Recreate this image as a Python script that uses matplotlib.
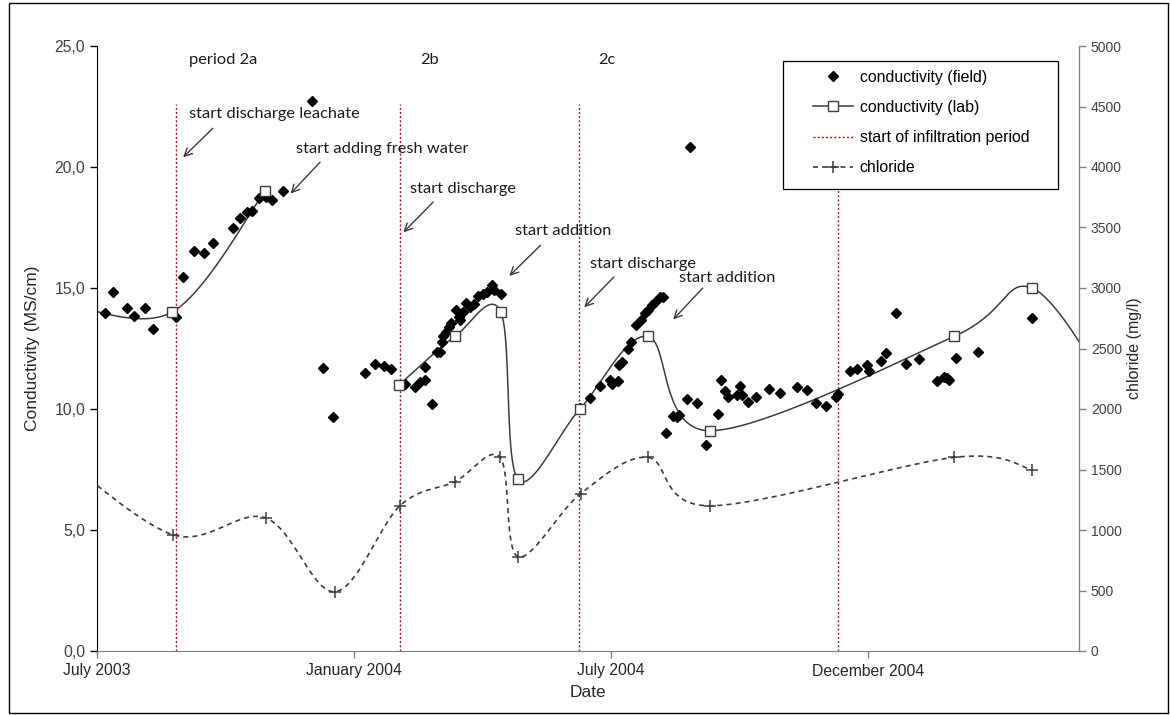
import matplotlib
matplotlib.use('Agg')
import matplotlib.pyplot as plt
import numpy as np
from matplotlib.lines import Line2D
from matplotlib.patches import Rectangle

# days counted from 1 July 2003
field_day = [6, 11, 21, 26, 34, 40, 56, 61, 69, 76, 82, 96, 101, 106, 110, 115, 120, 124, 132,
             152, 160, 167, 190, 197, 203, 208, 218, 225, 229, 232, 232, 237, 241, 243, 244, 245,
             247, 249, 251, 254, 256, 257, 259, 261, 264, 267, 270, 273, 276, 280, 281, 286,
             342, 349, 356, 363, 365, 369, 370, 372, 376, 378, 382, 385, 388, 390, 393, 395, 399, 401,
             403, 408, 411, 412, 418, 420, 425, 431, 440, 442, 445, 447, 453, 455, 457, 461, 467,
             476, 484, 496, 503, 509, 516, 523, 525, 533, 538, 545, 547, 555, 559, 566, 573, 582,
             595, 600, 602, 603, 608, 624, 662]
field_cond = [13.95, 14.85, 14.19, 13.86, 14.19, 13.3, 13.79, 15.47, 16.54, 16.45, 16.86, 17.5, 17.9,
              18.14, 18.2, 18.7, 18.75, 18.64, 19.0,
              22.74, 11.7, 9.68, 11.5, 11.85, 11.79, 11.65, 11.03, 10.9, 11.1, 11.2, 11.75, 10.19,
              12.37, 12.37, 12.78, 13.0, 13.2, 13.4, 13.54, 14.09, 13.81, 13.68, 14.0, 14.4, 14.2,
              14.35, 14.65, 14.75, 14.85, 15.12, 14.9, 14.75,
              10.03, 10.44, 10.95, 11.2, 11.03, 11.16, 11.82, 11.95, 12.5, 12.78, 13.47, 13.68, 13.95,
              14.09, 14.3, 14.44, 14.64, 14.61,
              9.0, 9.71, 9.65, 9.75, 10.4, 20.84, 10.23, 8.51, 9.78, 11.2, 10.74, 10.48, 10.58, 10.95,
              10.58, 10.3, 10.51, 10.83, 10.65, 10.92, 10.79, 10.26, 10.14, 10.5, 10.6, 11.58, 11.65,
              11.82, 11.58, 11.98, 12.3, 13.98, 11.86, 12.05, 11.16, 11.34, 11.27, 11.2, 12.1, 12.34,
              13.75]

# lab samples, NaN marks the break between the two sampling campaigns
lab_day = [-25, 53, 119, np.nan, 214, 253.5, 286, 298, 342, 390, 434, 607, 662, 720]
lab_cond = [14.4, 14.0, 19.0, np.nan, 11.0, 13.0, 14.0, 7.1, 10.0, 13.0, 9.1, 13.0, 15.0, 10.5]

cl_day = [-30, 54, 119.5, 168.5, 214.5, 253.5, 285.5, 298, 342.5, 390, 434, 607, 662]
chloride = [1650, 960, 1100, 490, 1200, 1400, 1600, 780, 1300, 1600, 1200, 1600, 1500]

period_start = [56, 214.6, 341.3, 524.8]

tick_day = [0, 182, 364, 546]
tick_text = ['July 2003', 'January 2004', 'July 2004', 'December 2004']

# (text, text position, arrow tail, arrow head) in (day, conductivity)
notes = [
    ('start discharge leachate', (65, 22.2), (82, 21.6), (61, 20.4)),
    ('start adding fresh water', (141, 20.75), (158, 20.2), (137, 18.9)),
    ('start discharge', (222, 19.1), (238, 18.55), (217, 17.3)),
    ('start addition', (296, 17.36), (314, 16.76), (292, 15.5)),
    ('start discharge', (349, 16.0), (366, 15.45), (345, 14.2)),
    ('start addition', (412, 15.4), (429, 15.0), (408, 13.7)),
]
periods = [('period 2a', 65), ('2b', 229), ('2c', 355)]


def excel_smooth(xs, ys, n=40):
    """Excel-like smoothed line; NaN entries split the series into pieces."""
    xs = np.asarray(xs, dtype=float)
    ys = np.asarray(ys, dtype=float)
    breaks = np.where(np.isnan(xs))[0]
    pieces = np.split(np.column_stack([xs, ys]), breaks)
    t = np.linspace(0, 1, n)[1:, None]
    curves = []
    for pts in pieces:
        pts = pts[~np.isnan(pts[:, 0])]
        out = [pts[0]]
        for i in range(len(pts) - 1):
            p0 = pts[i - 1] if i > 0 else pts[i]
            p1, p2 = pts[i], pts[i + 1]
            p3 = pts[i + 2] if i + 2 < len(pts) else pts[i + 1]
            c1 = p1 + (p2 - p0) / 6
            c2 = p2 - (p3 - p1) / 6
            seg = (1 - t) ** 3 * p1 + 3 * (1 - t) ** 2 * t * c1 + 3 * (1 - t) * t ** 2 * c2 + t ** 3 * p2
            out.extend(seg)
        curves.append(np.array(out))
    return curves


plt.rcParams['font.family'] = ['Liberation Sans', 'DejaVu Sans']

fig = plt.figure(figsize=(11.7, 7.15), dpi=100)
ax = fig.add_axes([97 / 1170, 1 - 651 / 715, 982 / 1170, 605 / 715])
ax2 = ax.twinx()

fig.patches.append(Rectangle((9 / 1170, 2 / 715), 1159 / 1170, 710 / 715, transform=fig.transFigure,
                             fill=False, edgecolor='black', linewidth=1.0))

ax.set_xlim(0, 695.4)
ax.set_ylim(0, 25)
ax2.set_ylim(0, 5000)

for d in period_start:
    ax.plot([d, d], [0, 22.6], color='#a01818', linestyle=(0, (1.5, 1.5)), linewidth=1.0, zorder=1)

for piece in excel_smooth(lab_day, lab_cond):
    ax.plot(piece[:, 0], piece[:, 1], color='#3c3c3c', linewidth=1.1, zorder=2)
ax.plot(lab_day, lab_cond, linestyle='none', marker='s', markersize=7, markerfacecolor='white',
        markeredgecolor='#3c3c3c', markeredgewidth=1.0, zorder=4)

ax.plot(field_day, field_cond, linestyle='none', marker='D', markersize=5.5, color='black', zorder=3)

for piece in excel_smooth(cl_day, chloride):
    ax2.plot(piece[:, 0], piece[:, 1], color='#3c3c3c', linewidth=1.2, linestyle=(0, (3, 2.5)))
ax2.plot(cl_day, chloride, linestyle='none', marker='+', markersize=8, markeredgewidth=1.1,
         color='#3c3c3c')

ann_font = dict(family=['Lato', 'DejaVu Sans'], fontsize=11.8, color='#1a1a1a')
for txt, pos, tail, head in notes:
    ax.text(pos[0], pos[1], txt, ha='left', va='center', **ann_font)
    ax.annotate('', xy=head, xytext=tail,
                arrowprops=dict(arrowstyle='->', color='#3a3a3a', linewidth=1.0,
                                shrinkA=0, shrinkB=0, mutation_scale=14))
for txt, d in periods:
    ax.text(d, 24.42, txt, ha='left', va='center', **ann_font)

ax.set_xticks(tick_day)
ax.set_xticklabels(tick_text)
ax.set_yticks(np.arange(0, 26, 5))
ax.set_yticklabels([f'{v:.1f}'.replace('.', ',') for v in np.arange(0, 26, 5)])
ax2.set_yticks(np.arange(0, 5001, 500))

for a in (ax, ax2):
    a.spines['top'].set_visible(False)
    a.tick_params(length=5, width=1, direction='out')
ax.spines['left'].set_color('black')
ax.spines['bottom'].set_color('#808080')
ax2.spines['right'].set_color('#808080')
ax2.spines['left'].set_visible(False)
ax2.spines['bottom'].set_visible(False)
ax.tick_params(axis='x', colors='#808080', labelcolor='#262626', labelsize=11.3, pad=4)
ax.tick_params(axis='y', colors='black', labelcolor='#404040', labelsize=11.3)
ax2.tick_params(axis='y', colors='#808080', labelcolor='#404040', labelsize=10)

ax.set_xlabel('Date', fontsize=12.5, color='#262626', labelpad=5)
ax.set_ylabel('Conductivity (MS/cm)', fontsize=12.5, color='#262626', labelpad=10)
ax2.set_ylabel('chloride (mg/l)', fontsize=11.5, color='#262626', labelpad=4)

handles = [
    Line2D([], [], linestyle='none', marker='D', markersize=5.5, color='black'),
    Line2D([], [], color='#3c3c3c', linewidth=1.1, marker='s', markersize=7,
           markerfacecolor='white', markeredgecolor='#3c3c3c'),
    Line2D([], [], color='#a01818', linestyle=(0, (1.5, 1.5)), linewidth=1.0),
    Line2D([], [], color='#3c3c3c', linestyle=(0, (3, 2.5)), linewidth=1.2, marker='+',
           markersize=8, markeredgewidth=1.1),
]
labels = ['conductivity (field)', 'conductivity (lab)', 'start of infiltration period', 'chloride']
leg = ax2.legend(handles, labels, loc='upper left', bbox_to_anchor=(813 / 1170, 1 - 70 / 715),
                 bbox_transform=fig.transFigure, fontsize=11.4, frameon=False,
                 handlelength=2.5, handletextpad=0.45, labelspacing=0.95, borderpad=0,
                 borderaxespad=0)
leg.set_zorder(6)
ax2.add_patch(Rectangle((783 / 1170, 1 - 189 / 715), 275 / 1170, 128 / 715,
                        transform=fig.transFigure, facecolor='white', edgecolor='black',
                        linewidth=0.9, zorder=5, clip_on=False))

fig.savefig('out.png', dpi=100)
